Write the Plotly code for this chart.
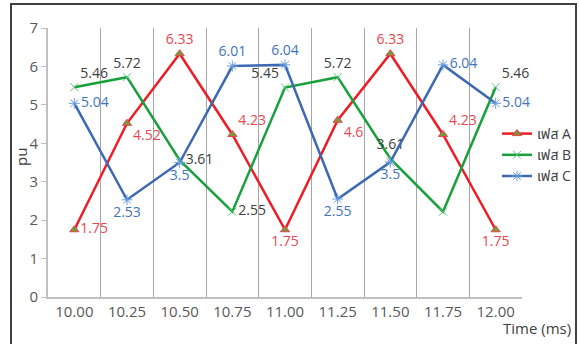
import plotly.graph_objects as go

times = ["10.00", "10.25", "10.50", "10.75", "11.00", "11.25", "11.50", "11.75", "12.00"]

phase_a = [1.75, 4.52, 6.33, 4.23, 1.75, 4.6, 6.33, 4.23, 1.75]
phase_b = [5.46, 5.72, 3.56, 2.22, 5.45, 5.72, 3.6, 2.22, 5.46]
phase_c = [5.04, 2.53, 3.5, 6.01, 6.04, 2.55, 3.51, 6.04, 5.04]

labels_a = ["1.75", "4.52", "6.33", "4.23", "1.75", "4.6", "6.33", "4.23", "1.75"]
labels_b = ["5.46", "5.72", "3.61", "2.55", "5.45", "5.72", "3.61", "", "5.46"]
labels_c = ["5.04", "2.53", "3.5", "6.01", "6.04", "2.55", "3.5", "6.04", "5.04"]

pos_a = ["middle right", "bottom right", "top center", "top right", "bottom center",
         "bottom right", "top center", "top right", "bottom center"]
pos_b = ["top right", "top center", "middle right", "middle right", "top left",
         "top center", "top center", "top center", "top right"]
pos_c = ["middle right", "bottom center", "bottom center", "top center", "top center",
         "bottom center", "bottom center", "middle right", "middle right"]

names = ["เฟส A", "เฟส B", "เฟส C"]

FONT = "Open Sans, Noto Sans, Noto Sans Thai, DejaVu Sans, sans-serif"
x_idx = list(range(len(times)))

fig = go.Figure()
fig.add_trace(go.Scatter(
    x=x_idx, y=phase_a, name=names[0], mode="lines+markers+text",
    line=dict(color="#ee1c25", width=2.5),
    marker=dict(symbol="triangle-up", size=8, color="#779a3a",
                line=dict(color="#e8404a", width=1)),
    text=labels_a, textposition=pos_a, cliponaxis=False,
    textfont=dict(family=FONT, size=14, color="#e8474f"),
))
fig.add_trace(go.Scatter(
    x=x_idx, y=phase_b, name=names[1], mode="lines+markers+text",
    line=dict(color="#17a03c", width=2.5),
    marker=dict(symbol="x-thin", size=8, color="#5cc47a",
                line=dict(color="#5cc47a", width=1)),
    text=labels_b, textposition=pos_b, cliponaxis=False,
    textfont=dict(family=FONT, size=14, color="#404040"),
))
fig.add_trace(go.Scatter(
    x=x_idx, y=phase_c, name=names[2], mode="lines+markers+text",
    line=dict(color="#3d69b2", width=2.5),
    marker=dict(symbol="asterisk-open", size=9, color="#6b9ee0",
                line=dict(color="#6b9ee0", width=1)),
    text=labels_c, textposition=pos_c, cliponaxis=False,
    textfont=dict(family=FONT, size=14, color="#3f74ba"),
))

L, R, T, B = 48, 57, 28, 47
W, H = 579, 344
pw, ph = W - L - R, H - T - B

def px_x(p):
    return (p - L) / pw

def px_y(p):
    return (H - B - p) / ph

fig.update_layout(
    width=W, height=H,
    margin=dict(l=L, r=R, t=T, b=B, autoexpand=False),
    paper_bgcolor="white", plot_bgcolor="white",
    font=dict(family=FONT, size=14, color="#595959"),
    showlegend=True,
    legend=dict(xref="container", yref="container",
                x=497 / W, y=1 - 118 / H, xanchor="left", yanchor="top",
                bgcolor="rgba(0,0,0,0)", font=dict(size=14, color="#404040"),
                tracegroupgap=0, itemwidth=30, borderwidth=0),
    xaxis=dict(
        range=[-0.5, len(times) - 0.5],
        tickmode="array", tickvals=x_idx, ticktext=times,
        showgrid=False, zeroline=False,
        showline=True, linecolor="#c0c0c0", linewidth=2,
        ticks="", tickfont=dict(size=15, color="#595959"),
        minor=dict(tickmode="linear", tick0=0.5, dtick=1, showgrid=True,
                   gridcolor="#a6a6a6", gridwidth=1, ticks=""),
    ),
    yaxis=dict(
        range=[0, 7], dtick=1, showgrid=False, zeroline=False,
        showline=True, linecolor="#c0c0c0", linewidth=2,
        ticks="outside", ticklen=5, tickcolor="#c0c0c0", tickwidth=1,
        tickfont=dict(size=15, color="#595959"),
    ),
    annotations=[
        dict(text="Time (ms)", xref="paper", yref="paper",
             x=px_x(573), y=px_y(328), xanchor="right", yanchor="middle",
             showarrow=False, font=dict(size=15, color="#404040")),
        dict(text="pu", xref="paper", yref="paper", textangle=-90,
             x=px_x(21), y=px_y(157), xanchor="center", yanchor="middle",
             showarrow=False, font=dict(size=15, color="#404040")),
    ],
    shapes=[dict(
        type="rect", xref="paper", yref="paper",
        x0=px_x(11), x1=px_x(576), y0=px_y(360), y1=px_y(4),
        line=dict(color="#404040", width=2), fillcolor="rgba(0,0,0,0)",
        layer="below",
    )],
)

fig.write_html("out.html")
